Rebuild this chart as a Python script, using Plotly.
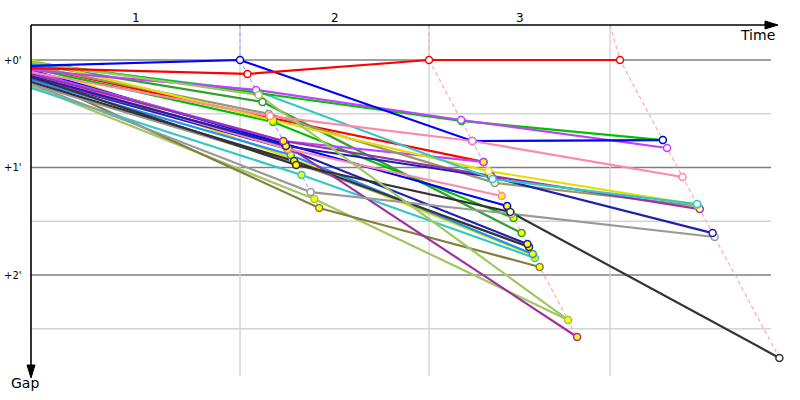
import plotly.graph_objects as go

# ---------------- data (seconds) ----------------
lap_labels = ["1", "2", "3"]
grid_times = [218.1, 415.3, 604.2]        # vertical reference lines
leader_times = [218.1, 415.3, 614.6]      # leader's time at end of each lap
gap_ticks = [0, 60, 120]
gap_tick_labels = ["+0'", "+1'", "+2'"]
minor_gaps = [30, 90, 150]

rider_colors = [
    "#a0c860", "#808040", "#30c8c8", "#e0e000", "#1e90ff", "#999999", "#333333", "#2020b0",
    "#a030a0", "#30a030", "#00c000", "#0000ff", "#ff88aa", "#ff0000", "#c040ff",
    "#999966", "#999999", "#333333", "#2020b0", "#9933aa", "#e0e000",
    "#30c8c8", "#00c000", "#c040ff", "#a0c860", "#0000ff", "#ff88aa", "#ff0000",
]
start_gap = [14.5, 8.9, 15.6, 2.2, 11.2, 13.4, 12.3, 10.0,
             10.0, 2.2, 4.5, 5.6, 7.8, 3.3, 6.7,
             3.3, 13.4, 9.5, 8.9, 7.8, 0.0,
             2.2, 1.1, 5.6, 1.1, 3.3, 6.7, 4.5]
lap1_gap = [77.6, 82.6, 64.2, 55.3, 53.0, 57.5, 56.4, 49.7,
            47.4, 23.4, 34.6, 46.9, 49.7, 32.4, 45.2,
            30.1, 73.7, 58.6, 48.0, 45.2, 33.5,
            17.3, 18.4, 16.7, 19.5, 0.0, 31.3, 7.8]
lap2_gap = [145.1, 115.5, 110.5, 109.0, 108.3, 103.8, 104.4, 102.7,
            154.6, 96.6, 88.2, 81.5, 75.9, 56.9, 56.9,
            68.6, 85.9, 84.8, 65.3, 64.7, 62.0,
            66.4, 34.0, 33.5, 145.1, 45.2, 45.2, 0.0]
lap3_gap = [None, None, None, None, None, None, None, None,
            None, None, None, None, None, None, None,
            81.5, 98.8, 166.3, 96.6, 83.2, 80.9,
            80.4, 44.7, 49.1, None, 44.7, 65.3, 0.0]
lap1_fill = ["y", "y", "y", "y", "y", "y", "y", "y",
             "y", "w", "y", "y", "y", "y", "y",
             "w", "w", "y", "y", "y", "y",
             "w", "w", "w", "w", "w", "w", "w"]

# ---------------- pixel mapping helpers (layout only) ----------------
PX_X = 57.5 / 60.0     # px per second (time)
PX_Y = 107.5 / 60.0    # px per second (gap)
X0, Y0 = 31, 60


def px2x(px):
    return (px - X0) / PX_X


def px2y(py):
    return (py - Y0) / PX_Y


fig = go.Figure()

# grid
shapes = []
for g in gap_ticks:
    shapes.append(dict(type="line", xref="x", yref="y", x0=0, x1=px2x(771), y0=g, y1=g,
                       line=dict(color="#808080", width=1.3), layer="below"))
for g in minor_gaps:
    shapes.append(dict(type="line", xref="x", yref="y", x0=0, x1=px2x(771), y0=g, y1=g,
                       line=dict(color="#d4d4d4", width=1.3), layer="below"))
for t in grid_times:
    shapes.append(dict(type="line", xref="x", yref="y", x0=t, x1=t, y0=px2y(25), y1=px2y(376),
                       line=dict(color="#d0d0d0", width=1.3), layer="below"))

# axes with arrows
shapes.append(dict(type="line", xref="x", yref="y", x0=0, x1=px2x(768), y0=px2y(25), y1=px2y(25),
                   line=dict(color="black", width=1.6)))
shapes.append(dict(type="line", xref="x", yref="y", x0=0, x1=0, y0=px2y(25), y1=px2y(368),
                   line=dict(color="black", width=1.6)))
shapes.append(dict(type="path", xref="x", yref="y",
                   path=f"M {px2x(765)} {px2y(21)} L {px2x(778)} {px2y(25)} L {px2x(765)} {px2y(29)} Z",
                   fillcolor="black", line=dict(color="black", width=1)))
shapes.append(dict(type="path", xref="x", yref="y",
                   path=f"M {px2x(27)} {px2y(365)} L {px2x(31)} {px2y(378)} L {px2x(35)} {px2y(365)} Z",
                   fillcolor="black", line=dict(color="black", width=1)))

# leader (lap) dashed lines
lap_dash_colors = ["#a8a8ff", "#ffa8a8", "#ffa8a8"]
all_laps = [lap1_gap, lap2_gap, lap3_gap]
for k in range(3):
    gmax = max(g for g in all_laps[k] if g is not None)
    fig.add_trace(go.Scatter(
        x=[grid_times[k], leader_times[k], leader_times[k] + gmax],
        y=[px2y(25), 0, gmax],
        mode="lines", line=dict(color=lap_dash_colors[k], width=1.2, dash="4px,3px"),
        hoverinfo="skip", showlegend=False))

# rider lines
n = len(rider_colors)
for i in range(n):
    xs = [0, leader_times[0] + lap1_gap[i], leader_times[1] + lap2_gap[i]]
    ys = [start_gap[i], lap1_gap[i], lap2_gap[i]]
    if lap3_gap[i] is not None:
        xs.append(leader_times[2] + lap3_gap[i])
        ys.append(lap3_gap[i])
    fig.add_trace(go.Scatter(x=xs, y=ys, mode="lines",
                             line=dict(color=rider_colors[i], width=2.2),
                             hoverinfo="skip", showlegend=False))

# markers
for i in range(n):
    xs = [leader_times[0] + lap1_gap[i], leader_times[1] + lap2_gap[i]]
    ys = [lap1_gap[i], lap2_gap[i]]
    fills = ["#ffff00" if lap1_fill[i] == "y" else "white"]
    if lap3_gap[i] is not None:
        fills.append("white")
        xs.append(leader_times[2] + lap3_gap[i])
        ys.append(lap3_gap[i])
        fills.append("white")
    else:
        fills.append("#ffff00")
    fig.add_trace(go.Scatter(x=xs, y=ys, mode="markers",
                             marker=dict(size=7, color=fills,
                                         line=dict(color=rider_colors[i], width=1.5)),
                             hoverinfo="skip", showlegend=False))

annotations = []
font = "DejaVu Sans"
for g, lab in zip(gap_ticks, gap_tick_labels):
    annotations.append(dict(x=px2x(24), y=g, xref="x", yref="y", text=lab, showarrow=False,
                            xanchor="right", yanchor="middle", font=dict(family=font, size=10, color="black")))
bounds = [0] + grid_times
for k, lab in enumerate(lap_labels):
    annotations.append(dict(x=(bounds[k] + bounds[k + 1]) / 2, y=px2y(18), xref="x", yref="y", text=lab,
                            showarrow=False, xanchor="center", yanchor="middle",
                            font=dict(family=font, size=12, color="#000000")))
annotations.append(dict(x=px2x(777), y=px2y(35), xref="x", yref="y", text="Time", showarrow=False,
                        xanchor="right", yanchor="middle", font=dict(family=font, size=14, color="black")))
annotations.append(dict(x=px2x(25), y=px2y(383), xref="x", yref="y", text="Gap", showarrow=False,
                        xanchor="center", yanchor="middle", font=dict(family=font, size=14, color="black")))

fig.update_layout(
    width=800, height=400,
    margin=dict(l=0, r=0, t=0, b=0),
    paper_bgcolor="white", plot_bgcolor="white",
    shapes=shapes, annotations=annotations,
    xaxis=dict(range=[px2x(0), px2x(800)], showgrid=False, zeroline=False, showticklabels=False, fixedrange=True),
    yaxis=dict(range=[px2y(400), px2y(0)], showgrid=False, zeroline=False, showticklabels=False, fixedrange=True),
    showlegend=False,
)
fig.write_html("out.html", config={"displayModeBar": False},
               post_script="document.body.style.margin='0';document.body.style.overflow='hidden';")
